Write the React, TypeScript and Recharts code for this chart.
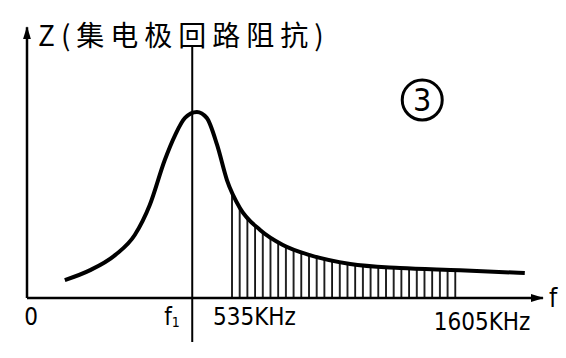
import React from 'react';
import { ComposedChart, Line, Area, XAxis, YAxis, ReferenceLine, ReferenceDot } from 'recharts';

// frequency axis in arbitrary units (0..100), impedance in arbitrary units (0..100)
const freq = [7.3, 12.2, 17.0, 20.8, 23.7, 26.6, 28.6, 30.5, 32.8, 34.7, 36.7, 38.6, 41.1, 45.0, 49.4, 54.6, 62.4, 72.0, 83.6, 96.1];
const impedance = [6.7, 10.4, 16.0, 23.5, 34.7, 51.5, 60.8, 67.2, 69.4, 67.2, 57.1, 44.0, 33.6, 25.4, 19.8, 16.0, 12.7, 11.2, 10.4, 9.3];

const f1 = 31.9;
const bandFrom = 38.6; // 535KHz
const bandTo = 83.6; // 1605KHz

const tickValues = [0, 28.0, bandFrom, bandTo];
const tickLabels = ['0', 'f1', '535KHz', '1605KHz'];

const circleMark = { x: 76.3, y: 73.9, label: '3' };
const title = 'Z(集电极回路阻抗)';

const data = freq.map((f, i) => ({
  f,
  z: impedance[i],
  shaded: f >= bandFrom && f <= bandTo ? impedance[i] : null,
}));

const tickStyle: Record<string, { anchor: 'start' | 'middle' | 'end'; dx: number; dy: number }> = {
  '0': { anchor: 'middle', dx: 4, dy: 19 },
  f1: { anchor: 'middle', dx: 0, dy: 19 },
  '535KHz': { anchor: 'start', dx: -14, dy: 19 },
  '1605KHz': { anchor: 'middle', dx: 22, dy: 24 },
};

const FreqTick = (props: any) => {
  const { x, y, payload } = props;
  const label = tickLabels[tickValues.indexOf(payload.value)];
  const st = tickStyle[label];
  if (label === 'f1') {
    return (
      <text x={x + st.dx} y={y + st.dy} textAnchor="middle" fontSize={24} fill="#000" fontFamily="DejaVu Sans Condensed, sans-serif">
        f<tspan fontSize={14} dy={2}>1</tspan>
      </text>
    );
  }
  return (
    <text x={x + st.dx} y={y + st.dy} textAnchor={st.anchor} fontSize={24} fill="#000" fontFamily="DejaVu Sans Condensed, sans-serif">
      {label}
    </text>
  );
};

const TitleLabel = (props: any) => {
  const { viewBox } = props;
  return (
    <text x={viewBox.x + 11} y={viewBox.y + 19} fontSize={28} fill="#000" letterSpacing={6} fontFamily="Noto Sans CJK SC, sans-serif">
      {title}
    </text>
  );
};

export default function App() {
  return (
    <div style={{ position: 'absolute', left: 0, top: 0, background: '#fff' }}>
      <ComposedChart width={566} height={358} data={data} margin={{ top: 30, right: 21, bottom: 0, left: 27 }}>
        <defs>
          <pattern id="hatch" patternUnits="userSpaceOnUse" width={7.7} height={10}>
            <line x1={1} y1={0} x2={1} y2={10} stroke="#000" strokeWidth={1.7} />
          </pattern>
          <marker id="arrow" markerUnits="userSpaceOnUse" markerWidth={14} markerHeight={10} refX={12} refY={4} orient="auto">
            <path d="M0,0 L13,4 L0,8 z" fill="#000" />
          </marker>
        </defs>
        <XAxis
          dataKey="f"
          type="number"
          domain={[0, 100]}
          allowDataOverflow
          ticks={tickValues}
          interval={0}
          tick={<FreqTick />}
          axisLine={false}
          tickLine={false}
          height={60}
        />
        <YAxis type="number" domain={[0, 100]} allowDataOverflow hide />
        <Area
          type="monotone"
          dataKey="shaded"
          stroke="none"
          fill="url(#hatch)"
          fillOpacity={1}
          baseValue={0}
          connectNulls={false}
          isAnimationActive={false}
        />
        <Line type="monotone" dataKey="z" stroke="#000" strokeWidth={4} dot={false} isAnimationActive={false} />
        <ReferenceLine
          segment={[{ x: 0, y: 0 }, { x: 99.6, y: 0 }]}
          stroke="#000"
          strokeWidth={2.5}
          ifOverflow="visible"
          markerEnd="url(#arrow)"
          label={{ value: 'f', position: 'right', offset: 6, fontSize: 26, fill: '#000', fontFamily: 'DejaVu Sans Condensed, sans-serif' }}
        />
        <ReferenceLine
          segment={[{ x: 0, y: 0 }, { x: 0, y: 101 }]}
          stroke="#000"
          strokeWidth={2.5}
          ifOverflow="visible"
          markerEnd="url(#arrow)"
          label={{ content: <TitleLabel /> }}
        />
        <ReferenceLine
          segment={[{ x: f1, y: -16.4 }, { x: f1, y: 94.4 }]}
          stroke="#000"
          strokeWidth={2}
          ifOverflow="visible"
        />
        <ReferenceDot
          x={circleMark.x}
          y={circleMark.y}
          r={20}
          fill="none"
          stroke="#000"
          strokeWidth={3}
          ifOverflow="visible"
          label={{ value: circleMark.label, position: 'center', fontSize: 32, fill: '#000', fontFamily: 'DejaVu Sans Condensed, sans-serif' }}
        />
      </ComposedChart>
    </div>
  );
}
